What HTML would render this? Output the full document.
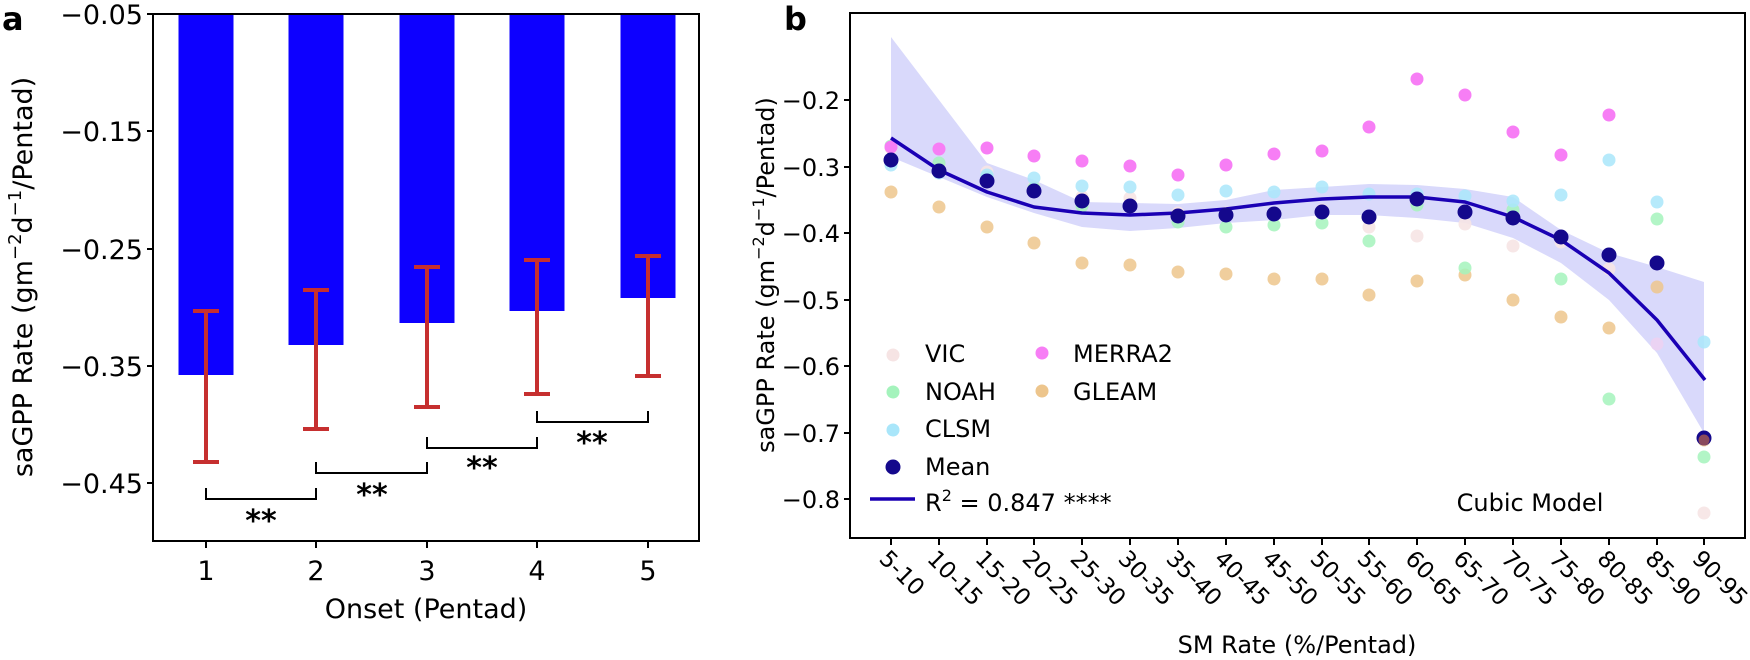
<!DOCTYPE html>
<html><head><meta charset="utf-8"><style>
html,body{margin:0;padding:0;background:#fff;}
svg{display:block;font-family:"DejaVu Sans","Liberation Sans",sans-serif;}
</style></head><body>
<svg width="1750" height="660" viewBox="0 0 1750 660" xmlns="http://www.w3.org/2000/svg">
<rect width="1750" height="660" fill="#fff"/>
<!-- Panel a -->
<text x="2" y="30" font-size="32" font-weight="bold">a</text>
<g fill="#0d00ff">
<rect x="178.5" y="14" width="55" height="361"/>
<rect x="288.5" y="14" width="55" height="331"/>
<rect x="399.5" y="14" width="55" height="309"/>
<rect x="509.5" y="14" width="55" height="297"/>
<rect x="620.5" y="14" width="55" height="284"/>
</g>
<g stroke="#c62f2f" stroke-width="4" fill="none">
<path d="M206 311V462M193 311H219M193 462H219"/>
<path d="M316 290V429M303 290H329M303 429H329"/>
<path d="M427 267V407M414 267H440M414 407H440"/>
<path d="M537 260V394M524 260H550M524 394H550"/>
<path d="M648 256V376M635 256H661M635 376H661"/>
</g>
<g stroke="#000" stroke-width="2" fill="none">
<path d="M206 488V499H316V488"/>
<path d="M316 462V473H427V462"/>
<path d="M427 437V448H537V437"/>
<path d="M537 411V422H648V411"/>
</g>
<g font-size="30" font-weight="bold" text-anchor="middle">
<text x="261" y="531">**</text>
<text x="372" y="505">**</text>
<text x="482" y="478">**</text>
<text x="592" y="453">**</text>
</g>
<rect x="153" y="14" width="546" height="527" fill="none" stroke="#000" stroke-width="2"/>
<g stroke="#000" stroke-width="2">
<path d="M147 14H153M147 131H153M147 249H153M147 366H153M147 483H153"/>
<path d="M206 541V548M316 541V548M427 541V548M537 541V548M648 541V548"/>
</g>
<g font-size="27" text-anchor="end">
<text x="143" y="24">−0.05</text>
<text x="143" y="141">−0.15</text>
<text x="143" y="259">−0.25</text>
<text x="143" y="376">−0.35</text>
<text x="143" y="493">−0.45</text>
</g>
<g font-size="27" text-anchor="middle">
<text x="206" y="580">1</text><text x="316" y="580">2</text><text x="427" y="580">3</text><text x="537" y="580">4</text><text x="648" y="580">5</text>
<text x="426" y="618">Onset (Pentad)</text>
</g>
<text transform="translate(32,277) rotate(-90)" font-size="27" text-anchor="middle">saGPP Rate (gm<tspan font-size="18" dy="-11">−2</tspan><tspan dy="11">d</tspan><tspan font-size="18" dy="-11">−1</tspan><tspan dy="11">/Pentad)</tspan></text>

<!-- Panel b -->
<text x="784" y="30" font-size="32" font-weight="bold">b</text>
<path d="M891 37 L939 100 L987 163 L1034 180 L1082 202 L1130 203 L1178 204 L1226 200 L1274 190 L1322 187 L1369 184 L1417 185 L1465 189 L1513 197 L1561 230 L1609 253 L1657 267 L1704 282 L1704 433 L1657 353 L1609 300 L1561 263 L1513 238 L1465 223 L1417 218 L1369 215 L1322 215 L1274 220 L1226 223 L1178 228 L1130 231 L1082 227 L1034 213 L987 197 L939 177 L891 157 Z" fill="#d9d9fb"/>
<g stroke="none">
<!-- GLEAM -->
<g fill="#edc58c" fill-opacity="0.85">
<circle cx="891" cy="192" r="6.5"/><circle cx="939" cy="207" r="6.5"/><circle cx="987" cy="227" r="6.5"/><circle cx="1034" cy="243" r="6.5"/><circle cx="1082" cy="263" r="6.5"/><circle cx="1130" cy="265" r="6.5"/><circle cx="1178" cy="272" r="6.5"/><circle cx="1226" cy="274" r="6.5"/><circle cx="1274" cy="279" r="6.5"/><circle cx="1322" cy="279" r="6.5"/><circle cx="1369" cy="295" r="6.5"/><circle cx="1417" cy="281" r="6.5"/><circle cx="1465" cy="275" r="6.5"/><circle cx="1513" cy="300" r="6.5"/><circle cx="1561" cy="317" r="6.5"/><circle cx="1609" cy="328" r="6.5"/><circle cx="1657" cy="287" r="6.5"/><circle cx="1704" cy="440" r="6.5"/>
</g>
<!-- VIC -->
<g fill="#f6e4e4" fill-opacity="0.9">
<circle cx="891" cy="148" r="6.5"/><circle cx="939" cy="167" r="6.5"/><circle cx="987" cy="172" r="6.5"/><circle cx="1034" cy="187" r="6.5"/><circle cx="1082" cy="197" r="6.5"/><circle cx="1130" cy="198" r="6.5"/><circle cx="1178" cy="213" r="6.5"/><circle cx="1226" cy="213" r="6.5"/><circle cx="1274" cy="213" r="6.5"/><circle cx="1322" cy="210" r="6.5"/><circle cx="1369" cy="227" r="6.5"/><circle cx="1417" cy="236" r="6.5"/><circle cx="1465" cy="224" r="6.5"/><circle cx="1513" cy="246" r="6.5"/><circle cx="1561" cy="242" r="6.5"/><circle cx="1609" cy="269" r="6.5"/><circle cx="1657" cy="344" r="6.5" fill="#ecd2f2"/><circle cx="1704" cy="513" r="6.5"/>
</g>
<!-- NOAH -->
<g fill="#a4f3bc" fill-opacity="0.85">
<circle cx="891" cy="146" r="6.5"/><circle cx="939" cy="163" r="6.5"/><circle cx="987" cy="177" r="6.5"/><circle cx="1034" cy="188" r="6.5"/><circle cx="1082" cy="206" r="6.5"/><circle cx="1130" cy="205" r="6.5"/><circle cx="1178" cy="222" r="6.5"/><circle cx="1226" cy="227" r="6.5"/><circle cx="1274" cy="225" r="6.5"/><circle cx="1322" cy="223" r="6.5"/><circle cx="1369" cy="241" r="6.5"/><circle cx="1417" cy="205" r="6.5"/><circle cx="1465" cy="268" r="6.5"/><circle cx="1513" cy="210" r="6.5"/><circle cx="1561" cy="279" r="6.5"/><circle cx="1609" cy="399" r="6.5"/><circle cx="1657" cy="219" r="6.5"/><circle cx="1704" cy="457" r="6.5"/>
</g>
<!-- CLSM -->
<g fill="#a9e6fa" fill-opacity="0.85">
<circle cx="891" cy="165" r="6.5"/><circle cx="939" cy="173" r="6.5"/><circle cx="987" cy="175" r="6.5"/><circle cx="1034" cy="178" r="6.5"/><circle cx="1082" cy="186" r="6.5"/><circle cx="1130" cy="187" r="6.5"/><circle cx="1178" cy="195" r="6.5"/><circle cx="1226" cy="191" r="6.5"/><circle cx="1274" cy="192" r="6.5"/><circle cx="1322" cy="187" r="6.5"/><circle cx="1369" cy="194" r="6.5"/><circle cx="1417" cy="194" r="6.5"/><circle cx="1465" cy="196" r="6.5"/><circle cx="1513" cy="201" r="6.5"/><circle cx="1561" cy="195" r="6.5"/><circle cx="1609" cy="160" r="6.5"/><circle cx="1657" cy="202" r="6.5"/><circle cx="1704" cy="342" r="6.5"/>
</g>
<!-- MERRA2 -->
<g fill="#f77ef5">
<circle cx="891" cy="147" r="6.5"/><circle cx="939" cy="149" r="6.5"/><circle cx="987" cy="148" r="6.5"/><circle cx="1034" cy="156" r="6.5"/><circle cx="1082" cy="161" r="6.5"/><circle cx="1130" cy="166" r="6.5"/><circle cx="1178" cy="175" r="6.5"/><circle cx="1226" cy="165" r="6.5"/><circle cx="1274" cy="154" r="6.5"/><circle cx="1322" cy="151" r="6.5"/><circle cx="1369" cy="127" r="6.5"/><circle cx="1417" cy="79" r="6.5"/><circle cx="1465" cy="95" r="6.5"/><circle cx="1513" cy="132" r="6.5"/><circle cx="1561" cy="155" r="6.5"/><circle cx="1609" cy="115" r="6.5"/>
</g>
<!-- Fit line -->
<path d="M891 138 L939 170 L987 192 L1034 207 L1082 213 L1130 215 L1178 213 L1226 209 L1274 203 L1322 199 L1369 197 L1417 197 L1465 202 L1513 217 L1561 240 L1609 273 L1657 320 L1705 380" fill="none" stroke="#1a00b4" stroke-width="3.5" stroke-linejoin="round"/>
<!-- Mean -->
<g fill="#14088c">
<circle cx="891" cy="160" r="7.5"/><circle cx="939" cy="171" r="7.5"/><circle cx="987" cy="181" r="7.5"/><circle cx="1034" cy="191" r="7.5"/><circle cx="1082" cy="201" r="7.5"/><circle cx="1130" cy="206" r="7.5"/><circle cx="1178" cy="216" r="7.5"/><circle cx="1226" cy="215" r="7.5"/><circle cx="1274" cy="214" r="7.5"/><circle cx="1322" cy="212" r="7.5"/><circle cx="1369" cy="217" r="7.5"/><circle cx="1417" cy="199" r="7.5"/><circle cx="1465" cy="212" r="7.5"/><circle cx="1513" cy="218" r="7.5"/><circle cx="1561" cy="237" r="7.5"/><circle cx="1609" cy="255" r="7.5"/><circle cx="1657" cy="263" r="7.5"/><circle cx="1704" cy="438" r="7.5"/>
</g>
<circle cx="1704" cy="440" r="5.5" fill="#8a4a5c"/>
</g>
<!-- legend -->
<g>
<circle cx="893" cy="355" r="6.5" fill="#f6e4e4"/>
<circle cx="893" cy="392" r="6.5" fill="#a4f3bc"/>
<circle cx="893" cy="430" r="6.5" fill="#a9e6fa"/>
<circle cx="893" cy="467" r="7.5" fill="#14088c"/>
<circle cx="1042" cy="353" r="6.5" fill="#f77ef5"/>
<circle cx="1042" cy="391" r="6.5" fill="#edc58c"/>
<path d="M870 499H915" stroke="#1a00b4" stroke-width="3.5"/>
</g>
<g font-size="24">
<text x="925" y="362">VIC</text>
<text x="925" y="400">NOAH</text>
<text x="925" y="437">CLSM</text>
<text x="925" y="475">Mean</text>
<text x="1073" y="362">MERRA2</text>
<text x="1073" y="400">GLEAM</text>
<text x="925" y="511">R<tspan font-size="16" dy="-10">2</tspan><tspan dy="10"> = 0.847 ****</tspan></text>
<text x="1530" y="511" text-anchor="middle">Cubic Model</text>
</g>
<rect x="850" y="13" width="895" height="525" fill="none" stroke="#000" stroke-width="2"/>
<g stroke="#000" stroke-width="2">
<path d="M844 100H850M844 167H850M844 233H850M844 300H850M844 366H850M844 433H850M844 499H850"/>
<path d="M891 538v7M939 538v7M987 538v7M1034 538v7M1082 538v7M1130 538v7M1178 538v7M1226 538v7M1274 538v7M1322 538v7M1369 538v7M1417 538v7M1465 538v7M1513 538v7M1561 538v7M1609 538v7M1657 538v7M1704 538v7"/>
</g>
<g font-size="24" text-anchor="end">
<text x="840" y="109">−0.2</text>
<text x="840" y="176">−0.3</text>
<text x="840" y="242">−0.4</text>
<text x="840" y="309">−0.5</text>
<text x="840" y="375">−0.6</text>
<text x="840" y="442">−0.7</text>
<text x="840" y="508">−0.8</text>
</g>
<g font-size="23">
<text transform="translate(878,560) rotate(45)">5-10</text>
<text transform="translate(926,560) rotate(45)">10-15</text>
<text transform="translate(974,560) rotate(45)">15-20</text>
<text transform="translate(1021,560) rotate(45)">20-25</text>
<text transform="translate(1069,560) rotate(45)">25-30</text>
<text transform="translate(1117,560) rotate(45)">30-35</text>
<text transform="translate(1165,560) rotate(45)">35-40</text>
<text transform="translate(1213,560) rotate(45)">40-45</text>
<text transform="translate(1261,560) rotate(45)">45-50</text>
<text transform="translate(1309,560) rotate(45)">50-55</text>
<text transform="translate(1356,560) rotate(45)">55-60</text>
<text transform="translate(1404,560) rotate(45)">60-65</text>
<text transform="translate(1452,560) rotate(45)">65-70</text>
<text transform="translate(1500,560) rotate(45)">70-75</text>
<text transform="translate(1548,560) rotate(45)">75-80</text>
<text transform="translate(1596,560) rotate(45)">80-85</text>
<text transform="translate(1644,560) rotate(45)">85-90</text>
<text transform="translate(1691,560) rotate(45)">90-95</text>
</g>
<text x="1297" y="653" font-size="24" text-anchor="middle">SM Rate (%/Pentad)</text>
<text transform="translate(774,275) rotate(-90)" font-size="24" text-anchor="middle">saGPP Rate (gm<tspan font-size="16" dy="-10">−2</tspan><tspan dy="10">d</tspan><tspan font-size="16" dy="-10">−1</tspan><tspan dy="10">/Pentad)</tspan></text>
</svg>
</body></html>
